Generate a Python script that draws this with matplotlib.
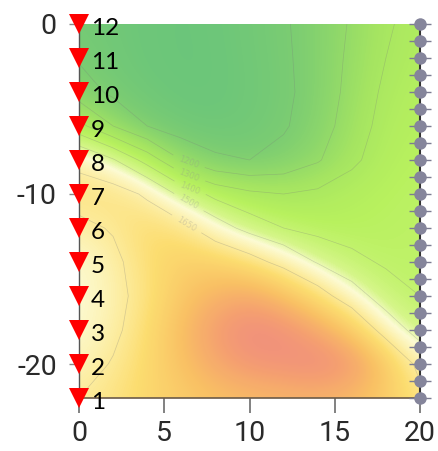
import numpy as np
import matplotlib
matplotlib.use("Agg")
import matplotlib.pyplot as plt
from matplotlib.colors import LinearSegmentedColormap

# Survey geometry
x_nodes = [0, 2, 4, 6, 8, 10, 12, 14, 16, 18, 20]
y_nodes = [0, -2, -4, -6, -8, -10, -12, -14, -16, -18, -20, -22]

# Field values on the node grid (rows follow y_nodes, columns follow x_nodes)
row_0 = [1070, 1040, 1020, 1010, 1020, 1050, 1090, 1140, 1210, 1290, 1330]
row_2 = [1090, 1050, 1020, 1010, 1015, 1045, 1085, 1140, 1220, 1300, 1340]
row_4 = [1150, 1080, 1035, 1015, 1015, 1040, 1080, 1140, 1230, 1320, 1350]
row_6 = [1330, 1200, 1100, 1045, 1030, 1050, 1090, 1150, 1250, 1335, 1360]
row_8 = [1620, 1510, 1360, 1200, 1120, 1100, 1130, 1190, 1280, 1350, 1375]
row_10 = [1700, 1710, 1630, 1470, 1370, 1320, 1300, 1320, 1350, 1370, 1385]
row_12 = [1620, 1660, 1740, 1700, 1560, 1460, 1400, 1370, 1370, 1380, 1390]
row_14 = [1560, 1620, 1720, 1800, 1790, 1710, 1600, 1490, 1420, 1390, 1395]
row_16 = [1550, 1610, 1700, 1840, 1940, 1990, 1880, 1720, 1560, 1440, 1400]
row_18 = [1560, 1620, 1730, 1890, 2050, 2150, 2120, 2000, 1820, 1580, 1450]
row_20 = [1590, 1660, 1750, 1870, 1990, 2080, 2110, 2150, 2080, 1850, 1600]
row_22 = [1650, 1700, 1760, 1820, 1870, 1900, 1920, 1930, 1900, 1820, 1700]

# Left borehole sensors and right borehole receivers
left_labels = ["12", "11", "10", "9", "8", "7", "6", "5", "4", "3", "2", "1"]
left_depths = [0, -2, -4, -6, -8, -10, -12, -14, -16, -18, -20, -22]
right_depths = [0, -1, -2, -3, -4, -5, -6, -7, -8, -9, -10, -11,
                -12, -13, -14, -15, -16, -17, -18, -19, -20, -21, -22]

x_ticks = [0, 5, 10, 15, 20]
y_ticks = [0, -10, -20]
contour_levels = [1100, 1200, 1300, 1400, 1500, 1650]

field = np.array([row_0, row_2, row_4, row_6, row_8, row_10, row_12,
                  row_14, row_16, row_18, row_20, row_22], dtype=float)

cmap = LinearSegmentedColormap.from_list(
    "velocity",
    [(0.00, "#6ac57b"), (0.09, "#7ccd72"), (0.23, "#a4e462"),
     (0.32, "#b8f15e"), (0.42, "#d6f68a"), (0.48, "#fcfbd4"),
     (0.55, "#fdeea4"), (0.64, "#fcdd70"), (0.77, "#f9c064"),
     (0.90, "#f5a070"), (1.00, "#f08c80")])

fig = plt.figure(figsize=(4.39, 4.51), dpi=100)
ax = fig.add_axes([0.18, 0.1175, 0.7767, 0.8293])

dx = 1.0
dy = 1.0
ax.imshow(field, cmap=cmap, vmin=1000, vmax=2150, interpolation="bicubic",
          extent=(x_nodes[0] - dx, x_nodes[-1] + dx,
                  y_nodes[-1] - dy, y_nodes[0] + dy),
          origin="upper", aspect="auto", zorder=0)

X, Y = np.meshgrid(x_nodes, y_nodes)
cs = ax.contour(X, Y, field, levels=contour_levels, colors="#7a7a7a",
                linewidths=0.5, alpha=0.3, zorder=1)
ax.clabel(cs, fmt="%d", fontsize=6, colors="#909090",
          manual=[(6.6, -7.6), (6.6, -8.5), (6.6, -9.4), (6.6, -10.2), (6.6, -11.3)])

ax.set_xlim(0, 20)
ax.set_ylim(-22, 0)

# Receivers along the right-hand borehole
ax.plot([20] * len(right_depths), right_depths, linestyle="none", marker="_",
        markersize=16, markeredgewidth=1.0, color="#7c7c92", clip_on=False, zorder=4)
ax.plot([20] * len(right_depths), right_depths, linestyle="none", marker="o",
        markersize=9, color="#85859b", markeredgewidth=0, clip_on=False, zorder=5)

# Sources along the left-hand borehole
ax.plot([0] * len(left_depths), left_depths, linestyle="none", marker="v",
        markersize=15, color="#ff0000", markeredgewidth=0, clip_on=False, zorder=6)
for lab, d in zip(left_labels, left_depths):
    ax.text(0.7, d - 0.25, lab, ha="left", va="center", fontsize=17.5,
            family="Lato", color="#000000", clip_on=False, zorder=7)

ax.set_xticks(x_ticks)
ax.set_yticks(y_ticks)
ax.set_xticklabels([str(t) for t in x_ticks])
ax.set_yticklabels([str(t) for t in y_ticks])
for lbl in ax.get_xticklabels() + ax.get_yticklabels():
    lbl.set_family("Roboto")
    lbl.set_fontweight("normal")
    lbl.set_fontsize(20.5)
    lbl.set_color("#2a2a2a")
ax.tick_params(axis="x", direction="out", length=11, width=1.3, color="#777777", pad=5)
ax.tick_params(axis="y", direction="out", length=7, width=1.0, color="#888888", pad=9)

ax.spines["top"].set_visible(False)
ax.spines["left"].set_color("#555555")
ax.spines["left"].set_linewidth(1.0)
ax.spines["right"].set_color("#333333")
ax.spines["right"].set_linewidth(1.5)
ax.spines["bottom"].set_color("#6b5a48")
ax.spines["bottom"].set_linewidth(1.2)
ax.spines["right"].set_zorder(3)

fig.savefig("out.png", dpi=100)
